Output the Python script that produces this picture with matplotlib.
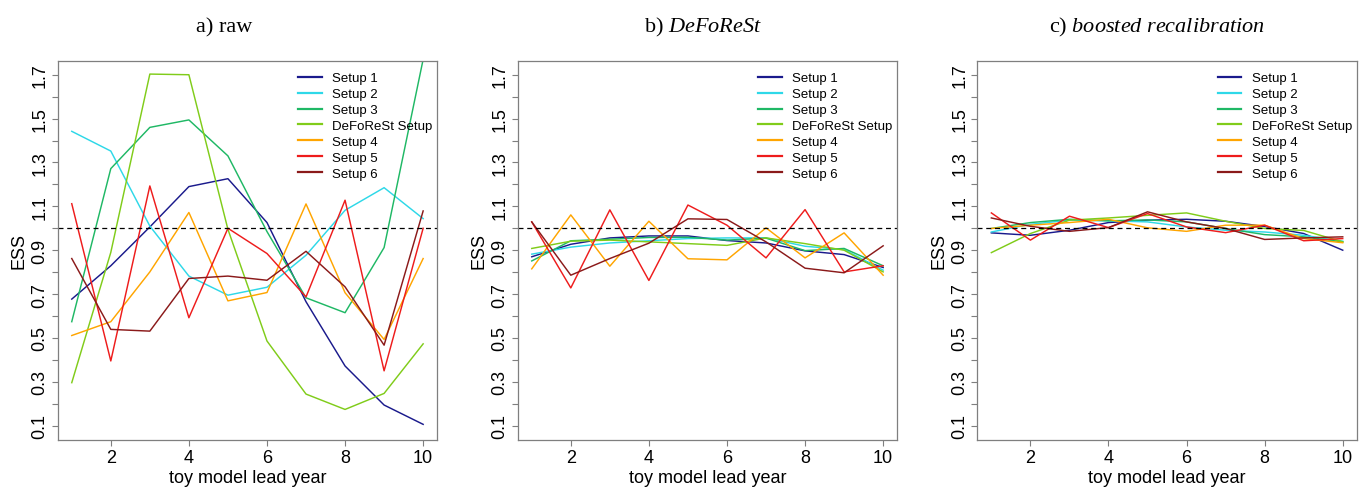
import matplotlib
matplotlib.use("Agg")
import matplotlib.pyplot as plt
import numpy as np

plt.rcParams["mathtext.fontset"] = "custom"
plt.rcParams["mathtext.rm"] = "Liberation Serif"
plt.rcParams["mathtext.it"] = "Liberation Serif:italic"

years = list(range(1, 11))
series_names = ["Setup 1", "Setup 2", "Setup 3", "DeFoReSt Setup", "Setup 4", "Setup 5", "Setup 6"]
series_colors = ["#1a1a8c", "#2ed8e8", "#1fb865", "#80cc1a", "#ffa500", "#ee1c1c", "#8b1a1a"]

raw_setup1 = [0.677, 0.829, 1.006, 1.190, 1.226, 1.026, 0.665, 0.372, 0.194, 0.106]
raw_setup2 = [1.442, 1.352, 1.010, 0.782, 0.695, 0.731, 0.877, 1.082, 1.185, 1.044]
raw_setup3 = [0.574, 1.272, 1.460, 1.494, 1.330, 0.985, 0.683, 0.615, 0.912, 1.770]
raw_deforest = [0.296, 0.890, 1.703, 1.700, 0.995, 0.486, 0.244, 0.174, 0.247, 0.473]
raw_setup4 = [0.511, 0.574, 0.801, 1.072, 0.669, 0.707, 1.111, 0.706, 0.493, 0.862]
raw_setup5 = [1.112, 0.395, 1.193, 0.592, 1.000, 0.885, 0.687, 1.128, 0.350, 1.000]
raw_setup6 = [0.862, 0.539, 0.531, 0.771, 0.782, 0.763, 0.895, 0.733, 0.467, 1.079]

dfr_setup1 = [0.870, 0.927, 0.956, 0.965, 0.965, 0.944, 0.933, 0.897, 0.880, 0.821]
dfr_setup2 = [0.882, 0.914, 0.933, 0.943, 0.953, 0.956, 0.956, 0.918, 0.903, 0.809]
dfr_setup3 = [0.851, 0.943, 0.950, 0.958, 0.959, 0.946, 0.955, 0.898, 0.908, 0.829]
dfr_deforest = [0.908, 0.941, 0.946, 0.938, 0.930, 0.922, 0.956, 0.930, 0.900, 0.801]
dfr_setup4 = [0.815, 1.061, 0.827, 1.032, 0.861, 0.856, 1.002, 0.865, 0.979, 0.786]
dfr_setup5 = [1.029, 0.728, 1.084, 0.762, 1.106, 1.014, 0.865, 1.085, 0.801, 0.829]
dfr_setup6 = [1.029, 0.786, 0.862, 0.932, 1.043, 1.040, 0.938, 0.818, 0.797, 0.920]

bst_setup1 = [0.979, 0.968, 0.991, 1.026, 1.037, 1.041, 1.032, 1.008, 0.976, 0.900]
bst_setup2 = [0.983, 1.018, 1.037, 1.034, 1.029, 1.006, 0.991, 0.983, 0.968, 0.941]
bst_setup3 = [0.999, 1.026, 1.041, 1.034, 1.038, 1.029, 0.999, 0.971, 0.961, 0.938]
bst_deforest = [0.889, 0.976, 1.037, 1.047, 1.059, 1.070, 1.032, 0.999, 0.990, 0.938]
bst_setup4 = [0.999, 1.014, 1.026, 1.041, 1.002, 0.986, 1.014, 1.014, 0.953, 0.934]
bst_setup5 = [1.070, 0.946, 1.055, 1.003, 1.067, 1.006, 0.980, 1.014, 0.943, 0.953]
bst_setup6 = [1.047, 1.009, 0.986, 1.003, 1.075, 1.029, 0.999, 0.949, 0.956, 0.961]

panels = [
    ("a) raw", [raw_setup1, raw_setup2, raw_setup3, raw_deforest, raw_setup4, raw_setup5, raw_setup6]),
    (r"b) $\it{DeFoReSt}$", [dfr_setup1, dfr_setup2, dfr_setup3, dfr_deforest, dfr_setup4, dfr_setup5, dfr_setup6]),
    (r"c) $\it{boosted\ recalibration}$", [bst_setup1, bst_setup2, bst_setup3, bst_deforest, bst_setup4, bst_setup5, bst_setup6]),
]

W, H = 1367, 489
fig = plt.figure(figsize=(W / 100, H / 100), dpi=100)
sans = ["Liberation Sans", "DejaVu Sans"]
serif = ["Liberation Serif", "DejaVu Serif"]

lefts = [57.7, 517.7, 977.3]
title_centers = [224, 702.5, 1156.5]
aw, top_px, bot_px = 379.5, 61.7, 440.7
frame_col = "#7f7f7f"

yticks = np.round(np.arange(0.1, 1.71, 0.1), 1)
ylabels = [f"{v:.1f}" if i % 2 == 0 else "" for i, v in enumerate(yticks)]

for (title, data), lp, tc in zip(panels, lefts, title_centers):
    ax = fig.add_axes([lp / W, (H - bot_px) / H, aw / W, (bot_px - top_px) / H])
    for vals, lab, col in zip(data, series_names, series_colors):
        ax.plot(years, vals, color=col, lw=1.05, label=lab)
    ax.axhline(1.0, color="black", lw=0.9, ls=(0, (4, 3)))
    ax.set_xlim(0.64, 10.36)
    ax.set_ylim(0.036, 1.764)
    ax.set_xticks([2, 4, 6, 8, 10])
    ax.set_yticks(yticks)
    ax.set_yticklabels(ylabels, rotation=90, va="center", family=sans, fontsize=13)
    for t in ax.get_xticklabels():
        t.set_family(sans)
        t.set_fontsize(13)
    ax.tick_params(axis="both", colors=frame_col, labelcolor="black", length=4.5, width=0.8, pad=2)
    for s in ax.spines.values():
        s.set_color(frame_col)
        s.set_linewidth(0.9)
    ax.set_xlabel("toy model lead year", family=sans, fontsize=13, labelpad=2)
    ax.set_ylabel("ESS", family=sans, fontsize=13, labelpad=3)
    leg = ax.legend(loc="upper left", frameon=False, prop={"family": sans, "size": 9.5},
                    handlelength=1.8, handletextpad=0.8, labelspacing=0.28,
                    bbox_to_anchor=((298 - 57.7) / aw, 0.970),
                    borderaxespad=0, borderpad=0)
    for h in leg.get_lines():
        h.set_linewidth(1.6)
    fig.text(tc / W, 1 - 32 / H, title, ha="center", va="baseline",
             family=serif, fontsize=16)

fig.savefig("out.png", dpi=100)
